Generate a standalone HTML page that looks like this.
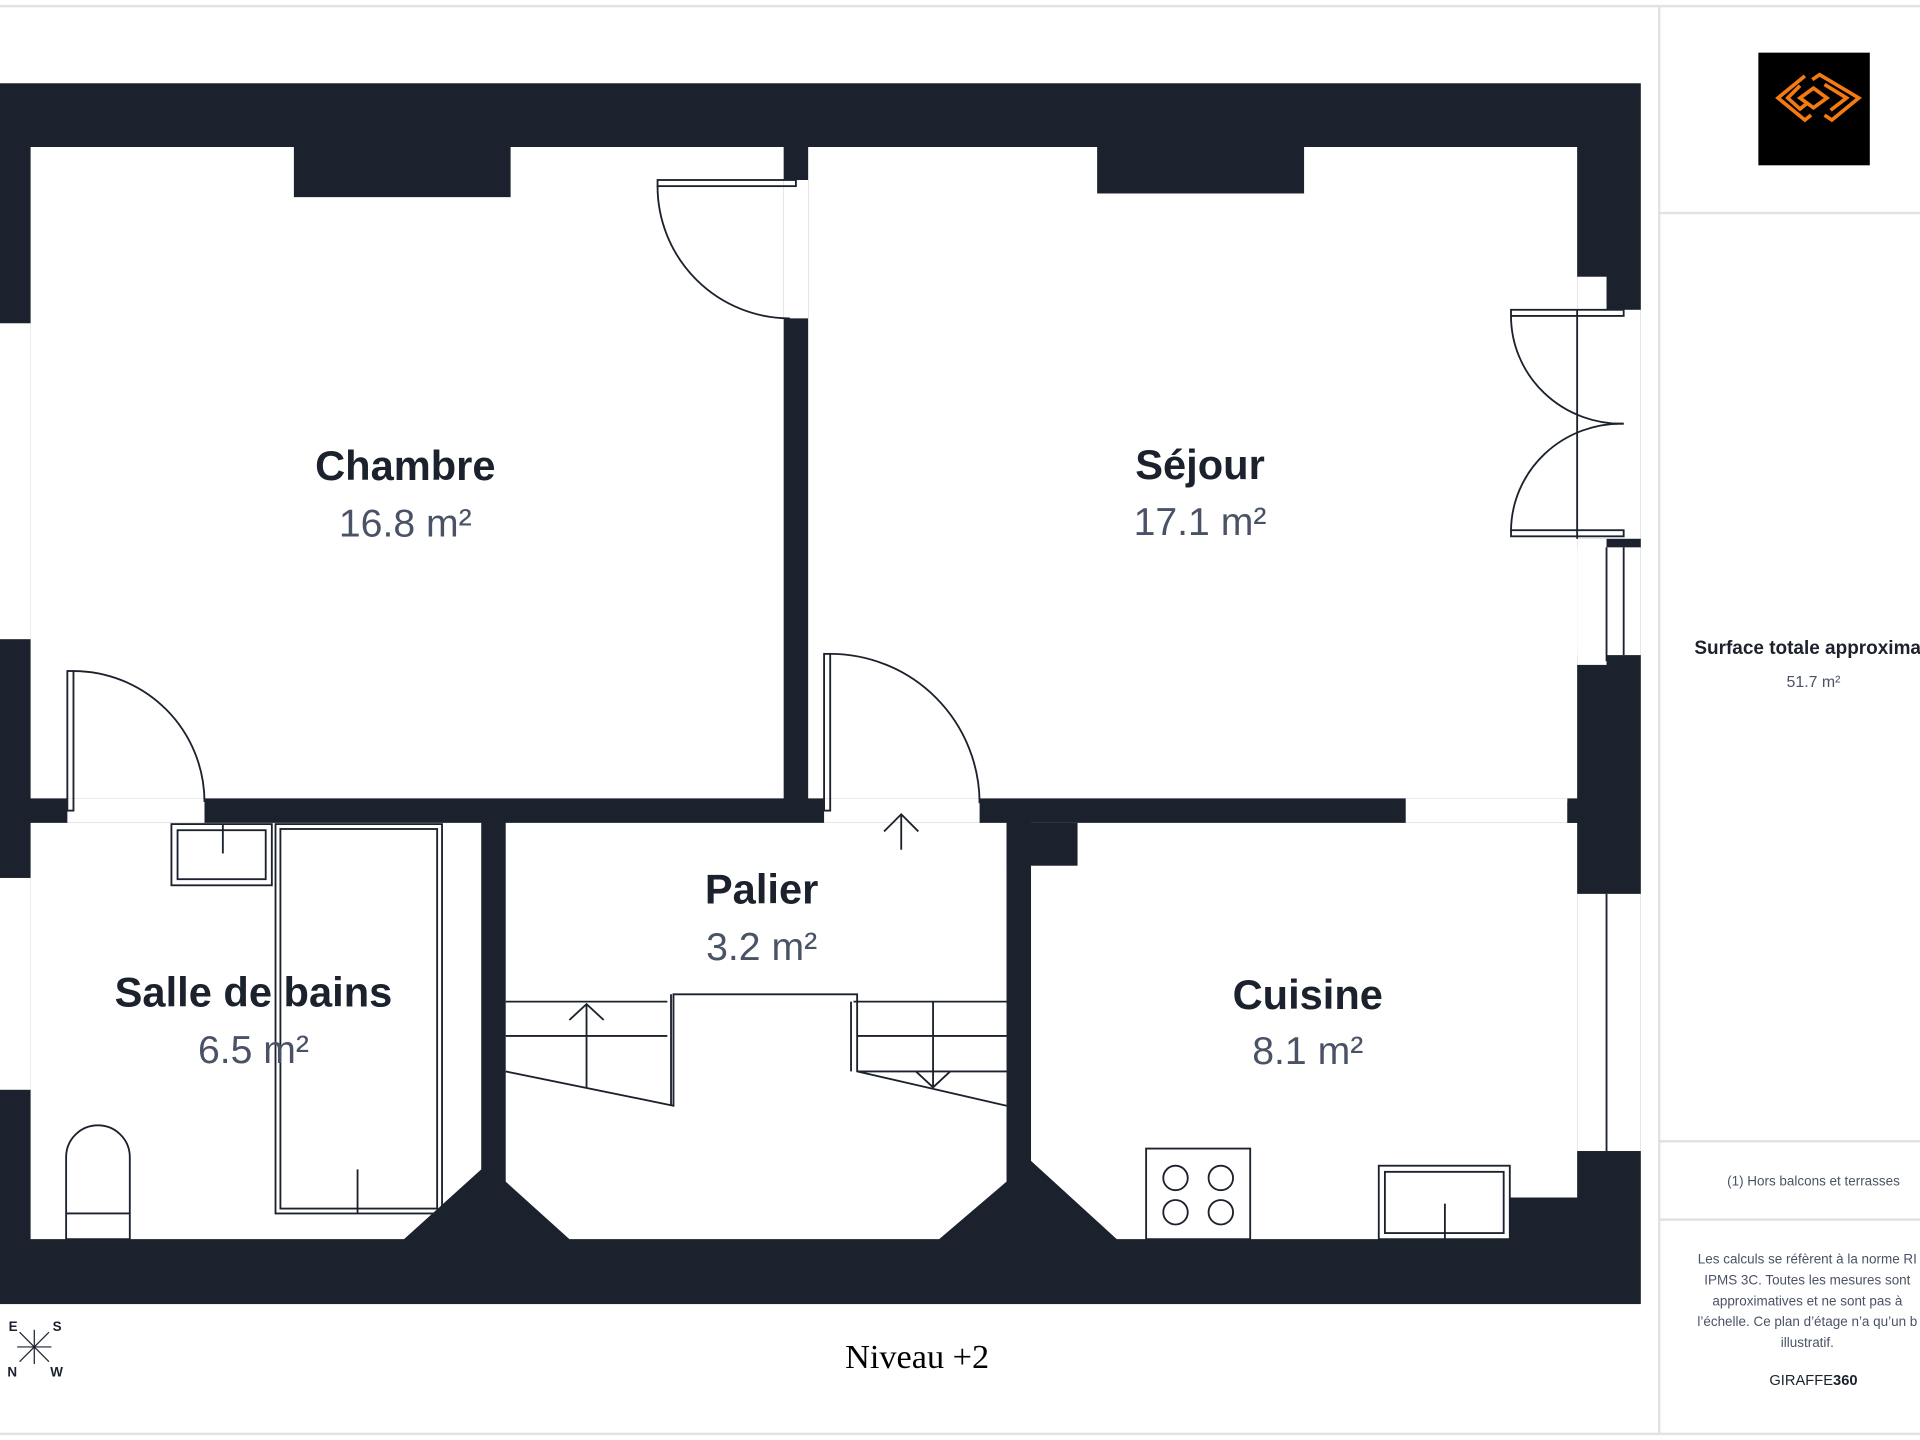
<!DOCTYPE html>
<html><head><meta charset="utf-8"><style>
html,body{margin:0;padding:0;background:#fff;}
svg{display:block;}
.t{font-family:"Liberation Sans",sans-serif;}
</style></head><body>
<svg width="1920" height="1440" viewBox="0 0 1568 1176" xmlns="http://www.w3.org/2000/svg">
<rect width="1568" height="1176" fill="#fff"/>
<line x1="0" y1="5" x2="1568" y2="5" stroke="#e2e2e2" stroke-width="2"/>
<line x1="0" y1="1171" x2="1568" y2="1171" stroke="#e2e2e2" stroke-width="2"/>
<line x1="1355" y1="5" x2="1355" y2="1171" stroke="#e2e2e2" stroke-width="2"/>
<line x1="1355" y1="174" x2="1568" y2="174" stroke="#e2e2e2" stroke-width="2"/>
<line x1="1355" y1="932" x2="1568" y2="932" stroke="#e2e2e2" stroke-width="2"/>
<line x1="1355" y1="996" x2="1568" y2="996" stroke="#e2e2e2" stroke-width="2"/>
<rect x="1436" y="43" width="91" height="92" fill="#000"/>
<g fill="none" stroke="#f47a12" stroke-width="3">
<path d="M1474 62 L1452 80 L1474 98 L1479 94"/><path d="M1470 70 L1460 80 L1470 89 L1475 85"/>
<path d="M1480 65 L1486 61 L1518 80 L1496 98 L1490 94"/><path d="M1490 69 L1508 80 L1495 90"/>
<path d="M1470 80 L1481 72 L1492 80 L1481 88 Z"/>
</g>
<text class="t" x="1481" y="534" font-size="15.5" font-weight="bold" fill="#1b222d" text-anchor="middle">Surface totale approximati</text>
<text class="t" x="1481" y="561" font-size="13" fill="#4a5366" text-anchor="middle">51.7 m²</text>
<text class="t" x="1481" y="968" font-size="11" fill="#4a5366" text-anchor="middle">(1) Hors balcons et terrasses</text>
<g class="t" font-size="11" fill="#4a5366" text-anchor="middle">
<text x="1476" y="1032">Les calculs se réfèrent à la norme RI</text>
<text x="1476" y="1049">IPMS 3C. Toutes les mesures sont</text>
<text x="1476" y="1066">approximatives et ne sont pas à</text>
<text x="1476" y="1083">l’échelle. Ce plan d’étage n’a qu’un b</text>
<text x="1476" y="1100">illustratif.</text>
</g>
<text class="t" x="1481" y="1131" font-size="12" fill="#1b222d" text-anchor="middle">GIRAFFE<tspan font-weight="bold">360</tspan></text>

<rect x="0" y="68" width="1340" height="997" fill="#1b222d"/>
<g fill="#fff">
<path d="M25 120 H640 V652 H25 Z"/>
<path d="M660 120 H1288 V652 H660 Z"/>
<rect x="640" y="147" width="20" height="113"/>
<rect x="55" y="652" width="112" height="20"/>
<rect x="673" y="652" width="127" height="20"/>
<rect x="1148" y="652" width="132" height="20"/>
<path d="M25 672 H393 V955 L330 1012 H25 Z"/>
<path d="M413 672 H822 V965 L767 1012 H465 L413 965 Z"/>
<path d="M842 672 H1288 V978 H1233 V1012 H912 L842 948 Z"/>
<rect x="0" y="264" width="25" height="258"/>
<rect x="0" y="717" width="25" height="173"/>
<rect x="1288" y="226" width="24" height="27"/>
<rect x="1288" y="253" width="52" height="187"/>
<rect x="1288" y="447" width="52" height="88"/>
<rect x="1288" y="440" width="24" height="103"/>
<rect x="1288" y="730" width="52" height="210"/>
</g>
<g fill="#1b222d">
<rect x="240" y="120" width="177" height="41"/>
<rect x="896" y="120" width="169" height="38"/>
<rect x="822" y="672" width="58" height="35"/>
<rect x="1280" y="655" width="8" height="17"/>
</g>
<g fill="none" stroke="#1b222d" stroke-width="1.5">
<line x1="1312" y1="447" x2="1312" y2="540"/><line x1="1326" y1="447" x2="1326" y2="535"/>
<line x1="1312" y1="730" x2="1312" y2="940"/><line x1="1288" y1="253" x2="1288" y2="440"/>
<rect x="537" y="147" width="113" height="5"/><path d="M537 152 A108 108 0 0 0 645 260"/>
<rect x="55" y="548" width="5" height="114"/><path d="M60 548 A107 107 0 0 1 167 655"/>
<rect x="673" y="534" width="5" height="128"/><path d="M678 534 A122 122 0 0 1 800 656"/>
<rect x="1234" y="253" width="92" height="5"/><path d="M1234 258 A90 88 0 0 0 1326 346"/>
<rect x="1234" y="433" width="92" height="5"/><path d="M1234 433 A90 88 0 0 1 1326 346"/>
<path d="M413 818 H545 M413 846 H545 M413 875 L550 903 V812 H700 V875 L822 903 M697 818 H822 M700 846 H822 M700 875 H822"/>
<path d="M548 812 V903 M695 818 V875"/>
<path d="M479 888 V820 M465 833 L479 820 L493 833"/>
<path d="M762 818 V888 M748 875 L762 888 L776 875"/>
<path d="M736 694 V665 M722 679 L736 665 L750 679"/>
<rect x="225" y="673" width="136" height="318"/><rect x="229" y="677" width="128" height="310"/>
<line x1="292" y1="955" x2="292" y2="991"/>
<rect x="140" y="673" width="82" height="50"/><rect x="145" y="678" width="72" height="40"/>
<line x1="182" y1="673" x2="182" y2="697"/>
<path d="M54 1012 V945 A26 26 0 0 1 106 945 V1012 Z M54 991 H106"/>
<rect x="936" y="938" width="85" height="74"/>
<circle cx="960" cy="962" r="10"/><circle cx="997" cy="962" r="10"/>
<circle cx="960" cy="990" r="10"/><circle cx="997" cy="990" r="10"/>
<rect x="1126" y="952" width="107" height="60"/><rect x="1131" y="957" width="97" height="50"/>
<line x1="1180" y1="983" x2="1180" y2="1012"/>
</g>
<g class="t" text-anchor="middle">
<text x="331" y="392" font-size="34" font-weight="bold" fill="#1b222d">Chambre</text>
<text x="331" y="438" font-size="32" fill="#4a5366">16.8 m²</text>
<text x="980" y="391" font-size="34" font-weight="bold" fill="#1b222d">Séjour</text>
<text x="980" y="437" font-size="32" fill="#4a5366">17.1 m²</text>
<text x="622" y="738" font-size="34" font-weight="bold" fill="#1b222d">Palier</text>
<text x="622" y="784" font-size="32" fill="#4a5366">3.2 m²</text>
<text x="207" y="822" font-size="34" font-weight="bold" fill="#1b222d">Salle de bains</text>
<text x="207" y="868" font-size="32" fill="#4a5366">6.5 m²</text>
<text x="1068" y="824" font-size="34" font-weight="bold" fill="#1b222d">Cuisine</text>
<text x="1068" y="869" font-size="32" fill="#4a5366">8.1 m²</text>
</g>
<text x="749" y="1117" font-family="Liberation Serif,serif" font-size="28" fill="#000" text-anchor="middle">Niveau +2</text>
<g class="t" font-size="11" font-weight="bold" fill="#1b222d">
<text x="7" y="1087">E</text><text x="43" y="1087">S</text><text x="6" y="1124">N</text><text x="41" y="1124">W</text>
</g>
<g stroke="#1b222d" stroke-width="1">
<line x1="16" y1="1088" x2="40" y2="1112"/><line x1="40" y1="1088" x2="16" y2="1112"/>
<line x1="28" y1="1086" x2="28" y2="1114"/><line x1="14" y1="1100" x2="42" y2="1100"/>
</g>
</svg>
</body></html>
